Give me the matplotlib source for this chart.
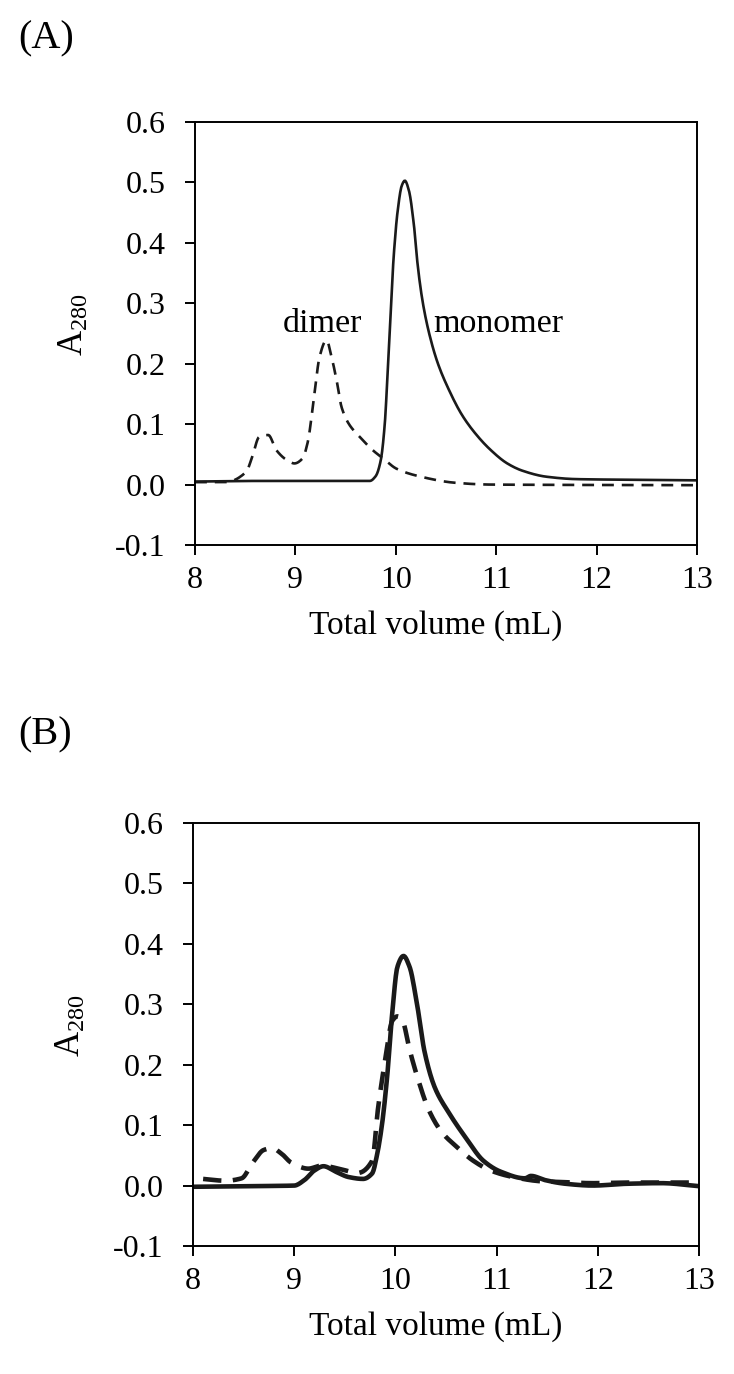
import numpy as np
import matplotlib
matplotlib.use('Agg')
import matplotlib.pyplot as plt

plt.rcParams['font.family'] = ['Liberation Serif', 'DejaVu Serif']
plt.rcParams['mathtext.fontset'] = 'custom'
plt.rcParams['mathtext.rm'] = 'Liberation Serif'

# Panel A - monomer (solid)
a_mono_x = [8.0, 8.5, 9.0, 9.5, 9.74, 9.80, 9.85, 9.89, 9.92, 9.95, 9.98, 10.02, 10.06,
            10.09, 10.13, 10.18, 10.22, 10.27, 10.34, 10.42, 10.52, 10.66, 10.8, 10.94,
            11.11, 11.26, 11.5, 11.8, 12.3, 13.0]
a_mono_y = [0.005, 0.006, 0.006, 0.006, 0.006, 0.014, 0.04, 0.10, 0.19, 0.29, 0.38, 0.455, 0.495,
            0.503, 0.487, 0.43, 0.36, 0.30, 0.245, 0.20, 0.16, 0.115, 0.083, 0.058,
            0.035, 0.023, 0.013, 0.009, 0.008, 0.007]

# Panel A - dimer (dashed)
a_dim_x = [8.0, 8.3, 8.51, 8.57, 8.64, 8.73, 8.81, 8.92, 8.99, 9.07, 9.12, 9.19, 9.24,
           9.31, 9.36, 9.41, 9.46, 9.53, 9.64, 9.77, 9.875, 10.01, 10.25, 10.59,
           10.94, 13.0]
a_dim_y = [0.004, 0.004, 0.021, 0.046, 0.079, 0.082, 0.057, 0.040, 0.035, 0.043, 0.068,
           0.15, 0.211, 0.239, 0.211, 0.173, 0.128, 0.101, 0.079, 0.057, 0.043, 0.026,
           0.013, 0.003, 0.0, -0.001]

# Panel B - solid
b_sol_x = [8.0, 8.5, 9.0, 9.1, 9.2, 9.29, 9.41, 9.54, 9.68, 9.77, 9.82, 9.87, 9.92,
           9.97, 10.02, 10.08, 10.14, 10.21, 10.29, 10.39, 10.53, 10.7, 10.87, 11.04,
           11.28, 11.34, 11.48, 11.68, 11.95, 12.29, 12.63, 13.0]
b_sol_y = [-0.002, -0.001, 0.0, 0.009, 0.025, 0.032, 0.023, 0.014, 0.011, 0.020, 0.052,
           0.104, 0.183, 0.288, 0.362, 0.38, 0.362, 0.304, 0.22, 0.162, 0.12, 0.078,
           0.041, 0.023, 0.012, 0.016, 0.009, 0.003, 0.0, 0.003, 0.004, -0.001]

# Panel B - dashed
b_dash_x = [8.10, 8.32, 8.48, 8.59, 8.70, 8.78, 8.88, 8.97, 9.14, 9.27, 9.44, 9.63,
            9.77, 9.83, 9.90, 9.97, 10.02, 10.07, 10.14, 10.22, 10.33, 10.46, 10.6,
            10.77, 10.94, 11.14, 11.45, 11.62, 11.95, 12.29, 12.63, 12.94]
b_dash_y = [0.011, 0.008, 0.012, 0.038, 0.059, 0.062, 0.052, 0.038, 0.028, 0.033, 0.028,
            0.021, 0.041, 0.13, 0.209, 0.273, 0.28, 0.273, 0.225, 0.178, 0.125, 0.088,
            0.065, 0.041, 0.025, 0.015, 0.007, 0.006, 0.004, 0.005, 0.005, 0.005]

x_ticks = [8, 9, 10, 11, 12, 13]
y_ticks = [-0.1, 0.0, 0.1, 0.2, 0.3, 0.4, 0.5, 0.6]
y_labels = ['-0.1', '0.0', '0.1', '0.2', '0.3', '0.4', '0.5', '0.6']

W, H = 734, 1374
fig = plt.figure(figsize=(W / 100, H / 100), dpi=100)


def smooth(x, y, n=500):
    # monotone cubic through the read points
    x = np.asarray(x, float)
    y = np.asarray(y, float)
    xs = np.linspace(x[0], x[-1], n)
    h = np.diff(x)
    d = np.diff(y) / h
    m = np.zeros_like(y)
    for i in range(1, len(x) - 1):
        if d[i - 1] * d[i] > 0:
            w1 = 2 * h[i] + h[i - 1]
            w2 = h[i] + 2 * h[i - 1]
            m[i] = (w1 + w2) / (w1 / d[i - 1] + w2 / d[i])
    m[0] = d[0]
    m[-1] = d[-1]
    idx = np.clip(np.searchsorted(x, xs) - 1, 0, len(h) - 1)
    t = (xs - x[idx]) / h[idx]
    h00 = 2 * t**3 - 3 * t**2 + 1
    h10 = t**3 - 2 * t**2 + t
    h01 = -2 * t**3 + 3 * t**2
    h11 = t**3 - t**2
    ys = h00 * y[idx] + h10 * h[idx] * m[idx] + h01 * y[idx + 1] + h11 * h[idx] * m[idx + 1]
    return xs, ys


def style_axes(ax):
    ax.set_xlim(8, 13)
    ax.set_ylim(-0.1, 0.6)
    ax.set_xticks(x_ticks)
    ax.set_yticks(y_ticks)
    ax.set_yticklabels(y_labels)
    ax.tick_params(direction='out', length=7, width=1.4, labelsize=23)
    ax.tick_params(axis='x', pad=8)
    ax.tick_params(axis='y', pad=14)
    for s in ax.spines.values():
        s.set_linewidth(1.4)
    ax.set_xlabel('Total volume (mL)', fontsize=24)
    ax.xaxis.set_label_coords(0.48, -0.155)
    ax.set_ylabel(r'$\mathregular{A_{280}}$', fontsize=25)
    ax.yaxis.set_label_coords(-0.208, 0.52)


# (A)
axA = fig.add_axes([195 / W, 1 - 545 / H, 502 / W, 423 / H])
xs, ys = smooth(a_mono_x, a_mono_y)
axA.plot(xs, ys, color='#1a1a1a', lw=1.9, solid_capstyle='round')
xs, ys = smooth(a_dim_x, a_dim_y)
axA.plot(xs, ys, color='#1a1a1a', lw=1.9, dashes=(4.5, 3))
axA.text(8.87, 0.252, 'dimer', fontsize=24.5)
axA.text(10.37, 0.252, 'monomer', fontsize=24.5)
style_axes(axA)
fig.text(18 / W, 1 - 39 / H, '(A)', fontsize=29, va='center', ha='left')

# (B)
axB = fig.add_axes([193 / W, 1 - 1246 / H, 506 / W, 423 / H])
xs, ys = smooth(b_sol_x, b_sol_y)
axB.plot(xs, ys, color='#1a1a1a', lw=3.3, solid_capstyle='round')
xs, ys = smooth(b_dash_x, b_dash_y)
axB.plot(xs, ys, color='#1a1a1a', lw=3.3, dashes=(4, 2.5))
style_axes(axB)
fig.text(18 / W, 1 - 735 / H, '(B)', fontsize=29, va='center', ha='left')

fig.savefig('out.png', dpi=100)
